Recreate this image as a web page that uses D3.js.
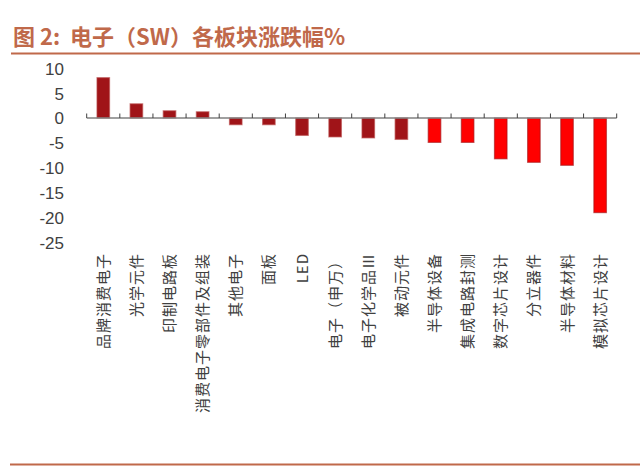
<!DOCTYPE html>
<html><head><meta charset="utf-8">
<script src="https://cdn.jsdelivr.net/npm/d3@7/dist/d3.min.js"></script>
<style>body{margin:0;background:#fff;}svg{display:block;}</style>
</head><body><svg id="c" width="640" height="466"></svg>
<script>
const categories = ["品牌消费电子","光学元件","印制电路板","消费电子零部件及组装","其他电子","面板","LED","电子（申万）","电子化学品Ⅲ","被动元件","半导体设备","集成电路封测","数字芯片设计","分立器件","半导体材料","模拟芯片设计"];
const values = [8.1, 2.85, 1.45, 1.25, -1.35, -1.35, -3.5, -3.8, -4.0, -4.3, -4.9, -4.9, -8.2, -8.9, -9.5, -19.0];
const groups = ["dark","dark","dark","dark","dark","dark","dark","dark","dark","dark","bright","bright","bright","bright","bright","bright"];
const yTicks = [10, 5, 0, -5, -10, -15, -20, -25];
const title = "图 2:  电子（SW）各板块涨跌幅%";

const svg = d3.select("#c");
const font = "'Noto Sans CJK SC', 'Noto Sans', sans-serif";

svg.append("text").attr("x", 13).attr("y", 45).text(title)
  .attr("xml:space", "preserve").style("white-space", "pre")
  .attr("font-family", font).attr("font-weight", "bold").attr("font-size", 22)
  .attr("fill", "#c0694a");
svg.append("line").attr("x1", 11).attr("x2", 640).attr("y1", 53.5).attr("y2", 53.5)
  .attr("stroke", "#c0694a").attr("stroke-width", 2);
svg.append("line").attr("x1", 10).attr("x2", 640).attr("y1", 464.5).attr("y2", 464.5)
  .attr("stroke", "#c0694a").attr("stroke-width", 2);

const x = d3.scaleBand().domain(categories).range([86.7, 616.7]).paddingInner(0.62).paddingOuter(0.31);
const y = d3.scaleLinear().domain([-25, 10]).range([242.5, 68.2]);

// y labels
const yAxis = d3.axisLeft(y).tickValues(yTicks).tickSize(0).tickPadding(0).tickFormat(d => String(d));
const ga = svg.append("g").attr("transform", "translate(64,0)").call(yAxis);
ga.select(".domain").remove();
ga.selectAll("text").attr("font-family", "'Liberation Sans', Arial, sans-serif")
  .attr("font-size", 17).attr("fill", "#404040").attr("dy", "0.35em");

// bars
svg.append("g").selectAll("rect").data(categories).join("rect")
  .attr("x", d => x(d))
  .attr("width", x.bandwidth())
  .attr("y", (d, i) => y(Math.max(0, values[i])))
  .attr("height", (d, i) => Math.abs(y(values[i]) - y(0)))
  .attr("fill", (d, i) => groups[i] === "dark" ? "#a01418" : "#ff0000")
  .attr("stroke", (d, i) => groups[i] === "dark" ? "#b84a4a" : "#a01418")
  .attr("stroke-opacity", 0.6)
  .attr("stroke-width", 1.2);

// x axis line with ticks pointing up
const x0 = 86.7, x1 = 616.7, n = categories.length, step = (x1 - x0) / n;
const y0 = y(0);
const xa = svg.append("g");
xa.append("line").attr("x1", x0).attr("x2", x1).attr("y1", y0).attr("y2", y0)
  .attr("stroke", "#808080").attr("stroke-width", 1.5);
xa.selectAll("line.t").data(d3.range(n + 1)).join("line").attr("class", "t")
  .attr("x1", i => x0 + i * step).attr("x2", i => x0 + i * step)
  .attr("y1", y0).attr("y2", y0 - 4.5)
  .attr("stroke", "#404040").attr("stroke-width", 1);

// x labels
svg.append("g").selectAll("text").data(categories).join("text")
  .attr("transform", d => `translate(${x(d) + x.bandwidth() / 2 + 5.5},253) rotate(-90)`)
  .attr("text-anchor", "end")
  .attr("font-family", font).attr("font-size", 15).attr("letter-spacing", 1)
  .attr("fill", "#404040")
  .text(d => d);
</script></body></html>
